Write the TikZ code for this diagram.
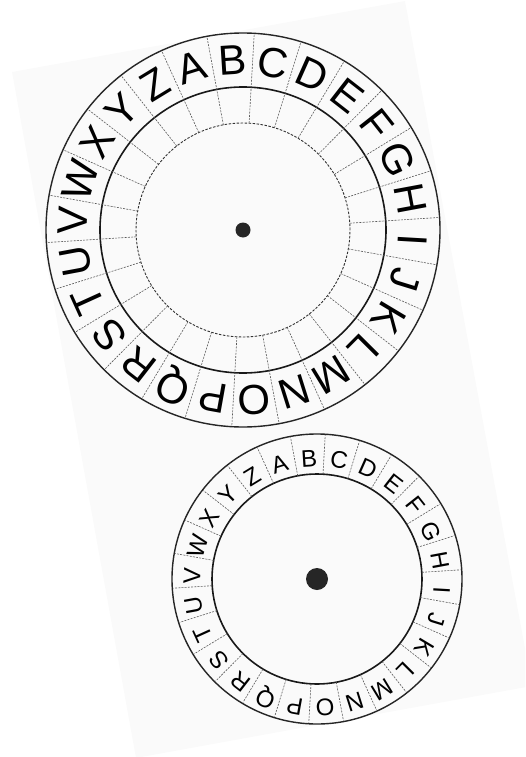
\documentclass[tikz,border=0pt]{standalone}
\usepackage{fontspec}
\setmainfont{Liberation Sans}
\usetikzlibrary{calc}
\begin{document}
\begin{tikzpicture}[x=1pt,y=1pt,
  ring/.style={line width=1.4pt, draw=black!85},
  midring/.style={line width=1.6pt, draw=black!90},
  dashring/.style={line width=0.9pt, draw=black!80, dash pattern=on 2.5pt off 1.5pt},
  spoke/.style={line width=0.6pt, draw=black!65, dash pattern=on 2pt off 1.2pt},
  bigletter/.style={font=\fontsize{42}{42}\selectfont, inner sep=0pt, text=black},
  smallletter/.style={font=\fontsize{24}{24}\selectfont, inner sep=0pt, text=black},
  hub/.style={circle, fill=black!85, inner sep=0pt}]
\useasboundingbox (0,-757) rectangle (525,0);
\begin{scope}
  \clip (0,-757) rectangle (525,0);
  \fill[black!2] (12,-72) -- (405,-1) -- (532,-686) -- (136,-758) -- cycle;
\end{scope}
% big wheel
\coordinate (bc) at (243,-230);
\draw[ring] (bc) circle[radius=197];
\draw[midring] (bc) circle[radius=143];
\draw[dashring] (bc) circle[radius=107];
\foreach \i in {0,...,25}{
  \pgfmathsetmacro\ang{107.5-13.846*\i+6.923}
  \draw[spoke] ($(bc)+(\ang:107)$) -- ($(bc)+(\ang:196)$);
}
\foreach \l [count=\i from 0] in {A,B,C,D,E,F,G,H,I,J,K,L,M,N,O,P,Q,R,S,T,U,V,W,X,Y,Z}{
  \pgfmathsetmacro\ang{107.5-13.846*\i}
  \node[bigletter, rotate=\ang-90] (big\l) at ($(bc)+(\ang:170)$) {\l};
}
\node[hub, minimum size=15pt] (bighub) at (bc) {};
% small wheel
\coordinate (sc) at (317,-579);
\coordinate (slc) at (317,-583);
\draw[ring] (sc) circle[radius=145];
\draw[midring] (sc) circle[radius=105];
\foreach \i in {0,...,25}{
  \pgfmathsetmacro\ang{107.5-13.846*\i+6.923}
  \draw[spoke] ($(sc)+(\ang:105)$) -- ($(sc)+(\ang:144)$);
}
\foreach \l [count=\i from 0] in {A,B,C,D,E,F,G,H,I,J,K,L,M,N,O,P,Q,R,S,T,U,V,W,X,Y,Z}{
  \pgfmathsetmacro\ang{107.5-13.846*\i}
  \node[smallletter, rotate=\ang-90] (small\l) at ($(slc)+(\ang:125)$) {\l};
}
\node[hub, minimum size=22pt] (smallhub) at (sc) {};
\end{tikzpicture}
\end{document}
